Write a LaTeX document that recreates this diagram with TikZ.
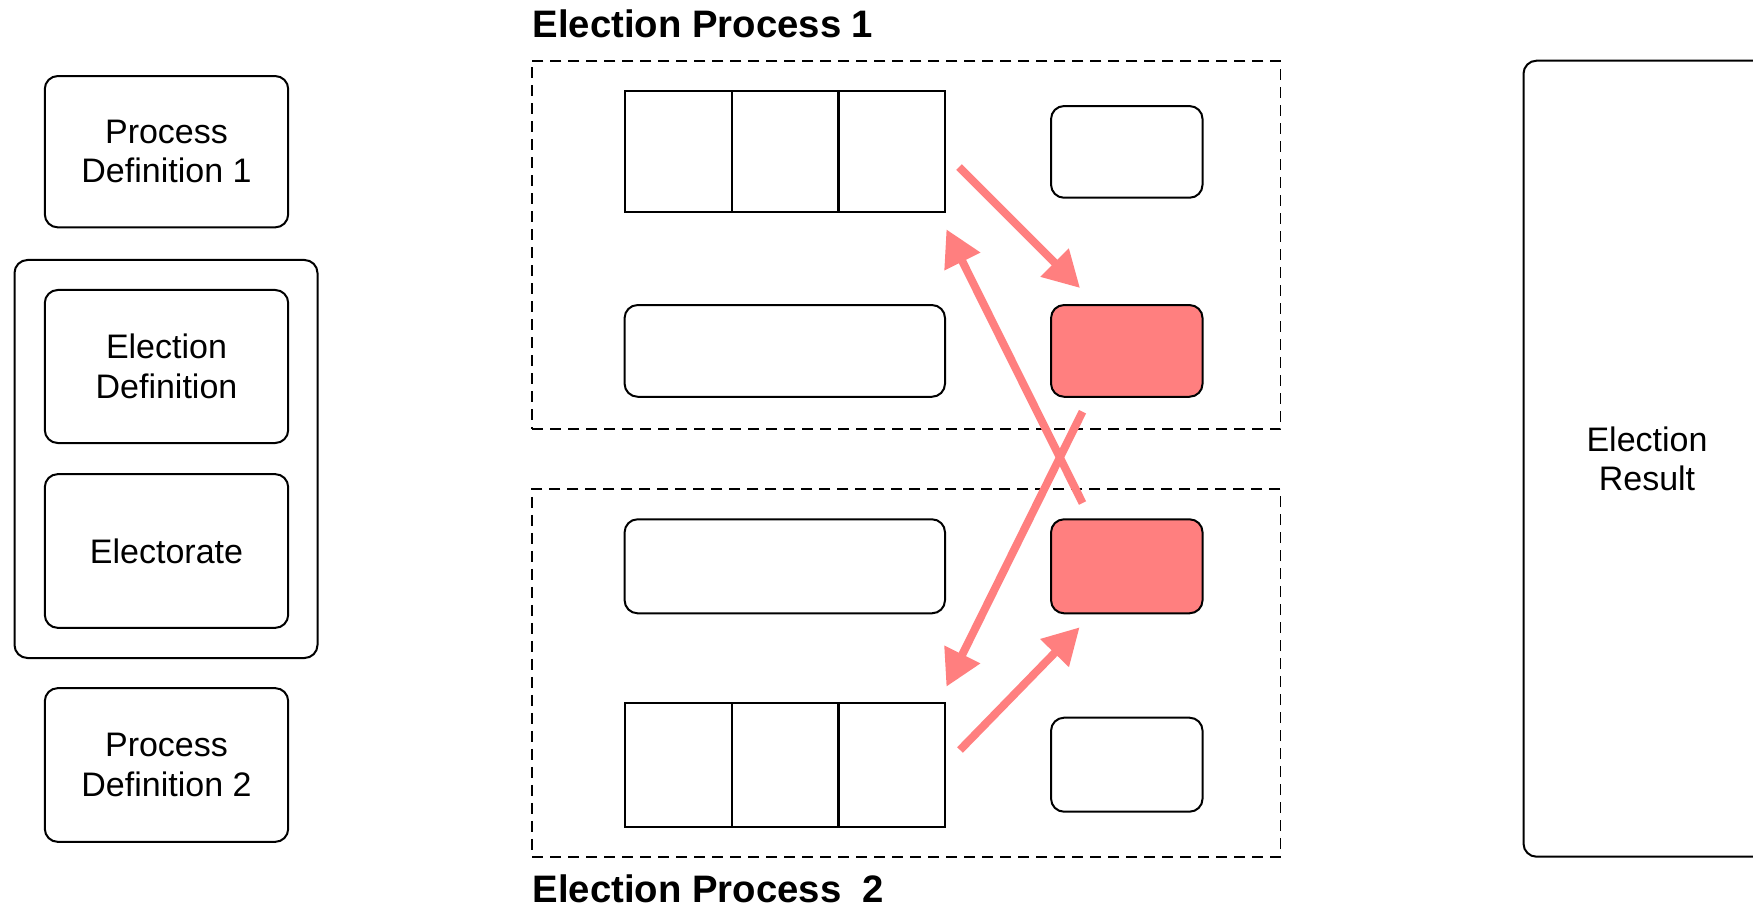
\documentclass[tikz,border=0pt]{standalone}
\usepackage{fontspec}
\setmainfont{Liberation Sans}
\usepackage{xcolor}
\usepackage{tikz}
\usetikzlibrary{arrows.meta}
\definecolor{salmon}{HTML}{FF7F7F}

\begin{document}
\begin{tikzpicture}[x=1pt,y=-1pt,
  every node/.style={font=\fontsize{34}{39.5}\selectfont,align=center,inner sep=0pt},
  box/.style={draw,line width=2pt,rounded corners=13pt},
  cell/.style={draw,line width=2pt,minimum width=107pt},
  proc/.style={draw,line width=1.8pt,dash pattern=on 11pt off 7pt,minimum width=748.5pt},
  hot/.style={box,fill=salmon},
  flow/.style={salmon,line width=8pt,-{Triangle[length=36pt,width=38pt]}},
  title/.style={anchor=base west,font=\fontsize{38.3}{40}\selectfont\bfseries}]
\clip (0,0) rectangle (1753,909);

% definitions on the left
\node[box,minimum width=303pt,minimum height=398pt] (defs) at (166,459) {};
\node[box,minimum width=243.4pt,minimum height=151.3pt] (pd1) at (166.5,151.7) {Process\\Definition 1};
\node[box,minimum width=243.4pt,minimum height=153pt] (edef) at (166.5,366.5) {Election\\Definition};
\node[box,minimum width=243.4pt,minimum height=153.7pt] (elec) at (166.5,551) {Electorate};
\node[box,minimum width=243.4pt,minimum height=153.7pt] (pd2) at (166.5,765) {Process\\Definition 2};

% first process
\node[proc,minimum height=368.3pt] (ep1) at (906.3,244.9) {};
\node[title] (ep1t) at (532.5,38) {Election Process 1};
\node[cell,minimum height=121pt] (c1a) at (678.1,151.2) {};
\node[cell,minimum height=121pt] (c1b) at (785,151.2) {};
\node[cell,minimum height=121pt] (c1c) at (891.8,151.2) {};
\node[box,minimum width=151.5pt,minimum height=91.7pt] (s1) at (1126.8,151.9) {};
\node[box,minimum width=320.4pt,minimum height=91.7pt] (w1) at (784.8,350.9) {};
\node[hot,minimum width=151.5pt,minimum height=91.7pt] (r1) at (1126.8,350.9) {};

% second process
\node[proc,minimum height=367.4pt] (ep2) at (906.3,673) {};
\node[title] (ep2t) at (532.5,902) {Election Process\ \ 2};
\node[box,minimum width=320.4pt,minimum height=94pt] (w2) at (784.8,566.3) {};
\node[hot,minimum width=151.5pt,minimum height=94pt] (r2) at (1126.8,566.3) {};
\node[cell,minimum height=124pt] (c2a) at (678.1,765.3) {};
\node[cell,minimum height=124pt] (c2b) at (785,765.3) {};
\node[cell,minimum height=124pt] (c2c) at (891.8,765.3) {};
\node[box,minimum width=151.5pt,minimum height=94pt] (s2) at (1126.8,764.7) {};

% result
\node[box,minimum width=247pt,minimum height=796pt] (res) at (1647,458.7) {Election\\Result};

% exchange between the two processes
\coordinate (a1) at (959,167);    \coordinate (a2) at (1080,288);
\coordinate (b1) at (1082.5,503); \coordinate (b2) at (946.4,229.3);
\coordinate (d1) at (1082.5,411.7); \coordinate (d2) at (946.4,686.7);
\coordinate (e1) at (960,750);    \coordinate (e2) at (1079.6,627.3);
\draw[flow] (a1) -- (a2);
\draw[flow] (b1) -- (b2);
\draw[flow] (d1) -- (d2);
\draw[flow] (e1) -- (e2);
\end{tikzpicture}
\end{document}
